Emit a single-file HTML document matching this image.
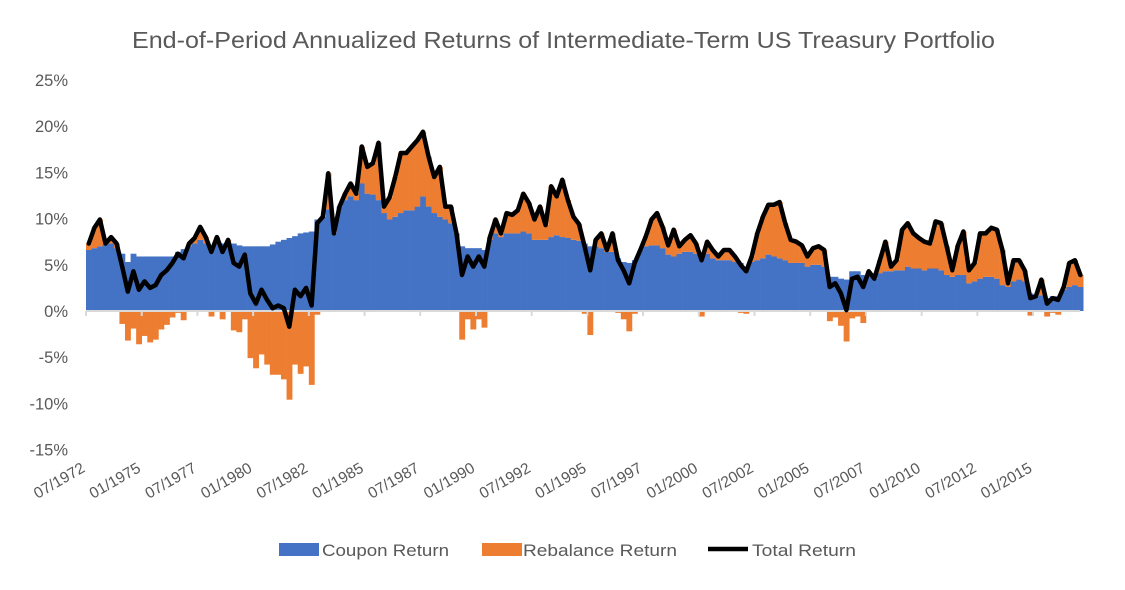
<!DOCTYPE html>
<html><head><meta charset="utf-8"><style>
body{margin:0;background:#fff;}
svg text{font-family:"Liberation Sans",sans-serif;fill:#595959;}
</style></head><body>
<svg id="chart" width="1125" height="585" viewBox="0 0 1125 585">
<text x="132" y="48" textLength="863" lengthAdjust="spacingAndGlyphs" font-size="23">End-of-Period Annualized Returns of Intermediate-Term US Treasury Portfolio</text>
<g id="yaxis"></g>
<g id="bars"></g>
<g id="xaxis"></g>
<g id="line"></g>
<g>
<rect x="279" y="543" width="40" height="13" fill="#4472c4"/>
<text x="322" y="556" font-size="17" textLength="127" lengthAdjust="spacingAndGlyphs">Coupon Return</text>
<rect x="482" y="543" width="40" height="13" fill="#ed7d31"/>
<text x="523" y="556" font-size="17" textLength="154" lengthAdjust="spacingAndGlyphs">Rebalance Return</text>
<line x1="708" y1="549" x2="748" y2="549" stroke="#000" stroke-width="4.5"/>
<text x="752" y="556" font-size="17" textLength="104" lengthAdjust="spacingAndGlyphs">Total Return</text>
</g>
</svg>
<script>
// quarterly values starting 07/1972 (percent)
const totalReturn = [7.3,9.0,9.9,7.3,8.0,7.3,4.8,2.1,4.3,2.3,3.2,2.5,2.8,3.9,4.4,5.2,6.2,5.7,7.3,7.9,
9.1,8.0,6.4,8.0,6.4,7.7,5.2,4.8,6.1,1.9,0.8,2.3,1.2,0.3,0.6,0.3,-1.7,2.3,1.6,2.5,
0.6,9.5,10.2,14.9,8.4,11.3,12.7,13.8,12.7,17.8,15.6,16.0,18.2,11.3,12.3,14.5,17.1,17.1,17.8,18.5,
19.4,16.7,14.5,15.6,11.3,11.3,8.4,3.9,5.9,4.8,5.9,4.8,8.0,9.9,8.4,10.6,10.4,10.9,12.7,11.7,
9.9,11.3,9.3,13.5,12.4,14.2,12.0,10.2,9.4,7.0,4.4,7.7,8.4,6.6,8.4,5.5,4.4,3.0,5.2,6.6,
8.1,9.9,10.6,9.1,7.1,8.8,7.0,7.7,8.2,7.3,5.5,7.5,6.6,5.9,6.6,6.6,5.9,5.0,4.3,5.9,
8.4,10.2,11.5,11.5,11.8,9.5,7.7,7.5,7.1,5.9,6.8,7.0,6.6,2.6,3.0,1.9,0.1,3.5,3.7,2.6,
4.3,3.5,5.5,7.5,4.8,5.5,8.8,9.5,8.4,7.9,7.5,7.3,9.7,9.5,7.0,4.4,7.1,8.6,4.4,5.2,
8.4,8.4,9.0,8.8,6.6,3.0,5.5,5.5,4.4,1.4,1.6,3.4,0.8,1.4,1.2,2.6,5.2,5.5,3.9];
const couponReturn = [6.6,6.8,7.0,7.2,7.3,6.8,6.2,5.3,6.2,5.9,5.9,5.9,5.9,5.9,5.9,5.9,6.4,6.7,7.0,7.3,
7.7,7.3,7.0,7.2,7.3,7.3,7.3,7.1,7.0,7.0,7.0,7.0,7.0,7.2,7.5,7.7,7.9,8.1,8.4,8.5,
8.6,9.9,10.2,11.0,8.4,11.3,12.0,12.4,12.0,13.8,12.7,12.6,12.0,10.6,9.9,10.2,10.6,10.9,10.9,11.3,
12.4,11.3,10.6,10.2,9.9,9.5,8.4,7.0,6.8,6.8,6.8,6.6,7.7,8.4,8.0,8.4,8.4,8.4,8.6,8.4,
7.7,7.7,7.7,8.0,8.2,8.0,7.9,7.7,7.6,7.3,7.0,7.0,6.8,6.4,6.4,5.7,5.3,5.2,5.5,6.6,
7.0,7.1,7.1,6.8,6.1,5.9,6.2,6.4,6.4,6.2,6.1,6.2,5.7,5.5,5.5,5.5,5.3,5.2,4.6,5.3,
5.5,5.7,6.1,5.9,5.7,5.5,5.2,5.2,5.2,4.8,5.0,5.0,4.8,3.7,3.7,3.5,3.4,4.3,4.3,3.9,
3.9,3.5,4.1,4.3,4.3,4.4,4.4,4.8,4.6,4.6,4.4,4.6,4.6,4.4,3.9,3.7,3.9,3.9,3.0,3.2,
3.5,3.7,3.7,3.5,2.8,2.6,3.2,3.4,3.2,1.9,1.6,1.7,1.4,1.6,1.6,2.3,2.6,2.8,2.6];
const yTicks = [-15,-10,-5,0,5,10,15,20,25];
const xTickLabels = ["07/1972","01/1975","07/1977","01/1980","07/1982","01/1985","07/1987","01/1990","07/1992","01/1995","07/1997","01/2000","07/2002","01/2005","07/2007","01/2010","07/2012","01/2015"];

const NS="http://www.w3.org/2000/svg";
const X0=86, PXM=1.857, Y0=311, PXV=9.24;
const xS=m=>X0+m*PXM;
const yS=v=>Y0-v*PXV;
function mk(tag,attrs,parent){const e=document.createElementNS(NS,tag);for(const k in attrs)e.setAttribute(k,attrs[k]);parent.appendChild(e);return e;}

const ya=document.getElementById('yaxis');
yTicks.forEach(t=>{
  const e=mk('text',{x:68,y:yS(t)+6,'text-anchor':'end','font-size':16.5},ya);
  
  
  e.textContent=t+'%';
});

const bg=document.getElementById('bars');
couponReturn.forEach((c,q)=>{
  const x1=xS(3*q), x2=xS(3*q+3)+0.3, w=x2-x1;
  const r=totalReturn[q]-c;
  const cb=mk('rect',{x:x1,y:Math.min(yS(c),Y0),width:w,height:Math.abs(c*PXV),fill:'#4472c4'},bg);
  
  
  let ry,rh;
  if(r>=0){ry=yS(c+r);rh=r*PXV;}else{ry=Y0;rh=-r*PXV;}
  const rb=mk('rect',{x:x1,y:ry,width:w,height:rh,fill:'#ed7d31'},bg);
  
  
});

const xa=document.getElementById('xaxis');
const axl=mk('line',{x1:X0,y1:Y0,x2:1080,y2:Y0,stroke:'#d9d9d9','stroke-width':2},xa);


xTickLabels.forEach((l,i)=>{
  const x=xS(30*i);
  const tk=mk('line',{x1:x,y1:Y0,x2:x,y2:Y0+5,stroke:'#d9d9d9','stroke-width':2},xa);
  
  
  const e=mk('text',{x:x,y:471,'text-anchor':'end','font-size':15.5,transform:`rotate(-30 ${x} 471)`},xa);
  
  
  e.textContent=l;
});

const lg=document.getElementById('line');
const pts=totalReturn.map((v,q)=>xS(3*q+1.5).toFixed(1)+','+yS(v).toFixed(1)).join(' ');
const pl=mk('polyline',{points:pts,fill:'none',stroke:'#000','stroke-width':4.5,'stroke-linejoin':'round','stroke-linecap':'round'},lg);


</script>
</body></html>
